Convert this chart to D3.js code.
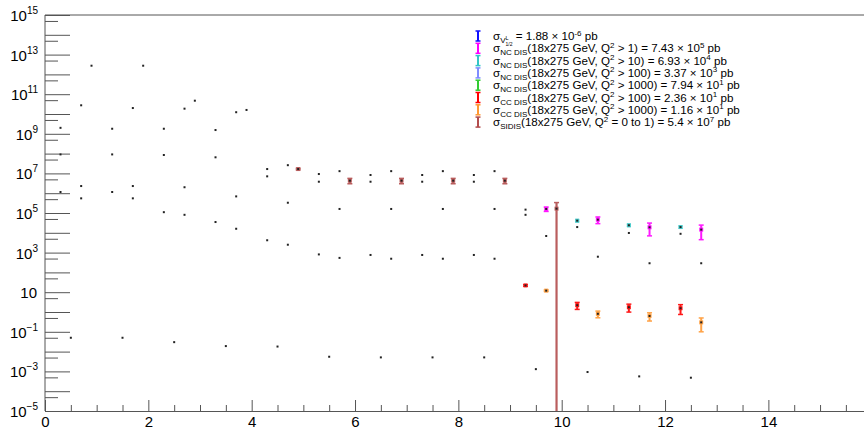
<!DOCTYPE html>
<html>
<head>
<meta charset="utf-8">
<script src="https://cdn.jsdelivr.net/npm/d3@7"></script>
<style>
  body { margin: 0; background: #fff; }
  text { font-family: "Liberation Sans", Arial, Helvetica, sans-serif; }
</style>
</head>
<body>
<div id="chart"></div>
<script>
// black markers (other processes)
var dotX = [0.3, 0.3, 0.3, 0.5, 0.7, 0.7, 0.7, 0.9,
            1.3, 1.3, 1.3, 1.5, 1.7, 1.7, 1.7, 1.9,
            2.3, 2.3, 2.3, 2.5, 2.7, 2.7, 2.7, 2.9,
            3.3, 3.3, 3.3, 3.5, 3.7, 3.7, 3.7, 3.9,
            4.3, 4.3, 4.3, 4.5, 4.7, 4.7, 4.7,
            5.3, 5.3, 5.3, 5.5, 5.7, 5.7, 5.7,
            6.3, 6.3, 6.3, 6.5, 6.7, 6.7, 6.7,
            7.3, 7.3, 7.3, 7.5, 7.7, 7.7, 7.7,
            8.3, 8.3, 8.3, 8.5, 8.7, 8.7, 8.7,
            9.3, 9.3, 9.5, 9.7,
            10.3, 10.5, 10.7, 11.3, 11.5, 11.7, 12.3, 12.5, 12.7]
var dotY = [2.0e9, 9.1e7, 1.15e6, 0.05, 2.75e10, 2.3e6, 5.5e5, 2.75e12,
            1.8e9, 9.1e7, 1.15e6, 0.05, 2.0e10, 2.3e6, 5.5e5, 2.75e12,
            1.8e9, 8.5e7, 1.1e5, 0.03, 1.86e10, 2.0e6, 8.1e4, 4.7e10,
            1.55e9, 6.5e7, 3.5e4, 0.019, 1.23e10, 6.9e5, 1.6e4, 1.6e10,
            1.66e7, 7.1e6, 4.2e3, 0.018, 2.6e7, 3.3e5, 2.5e3,
            9.3e6, 3.8e6, 810, 0.0055, 1.3e7, 1.6e5, 540,
            8.3e6, 3.8e6, 760, 0.0051, 1.3e7, 1.6e5, 490,
            8.3e6, 3.8e6, 760, 0.0051, 1.3e7, 1.6e5, 490,
            8.3e6, 3.8e6, 760, 0.0051, 1.3e7, 1.6e5, 490,
            1.48e5, 8.1e4, 0.0013, 6.9e3,
            1.95e4, 9.3e-4, 620, 9.8e3, 5.6e-4, 290, 8.9e3, 4.8e-4, 290]

// series with error bars
var ncX = [9.7, 10.7, 11.7, 12.7]
var ncY = [1.6e5, 4.6e4, 1.9e4, 1.45e4]
var ncErr = [4e4, 1.7e4, 1.2e4, 1.0e4]

var nc10X = [10.3, 11.3, 12.3]
var nc10Y = [4.1e4, 2.4e4, 1.95e4]
var nc10Err = [5e3, 3e3, 2.5e3]

var cc100X = [9.3, 10.3, 11.3, 12.3]
var cc100Y = [22, 2.2, 1.74, 1.55]
var cc100Err = [2, 0.85, 0.75, 0.8]

var cc1000X = [9.7, 10.7, 11.7, 12.7]
var cc1000Y = [12, 0.81, 0.63, 0.30]
var cc1000Err = [1, 0.3, 0.28, 0.2]

var sidisX = [4.9, 5.9, 6.9, 7.9, 8.9, 9.9]
var sidisY = [1.66e7, 4.3e6, 4.3e6, 4.3e6, 4.3e6, 1.66e5]
var sidisErr = [1.5e6, 1.3e6, 1.3e6, 1.3e6, 1.3e6, 1.7e5]

var xMajor = [0, 2, 4, 6, 8, 10, 12, 14]
var yLabelExp = [15, 13, 11, 9, 7, 5, 3, 1, -1, -3, -5]

var legendColors = ['#1010ff', '#ff00ff', '#33c6c6', '#7f8cff', '#33cc33', '#ff0000', '#ff9933', '#b34d4d']
// parts: [text, level]  0 normal, 1 sup, -1 sub
var legendRows = [
  [['σ', 0], ['V', -1], ['L', 2], ['1/2', -2], [' = 1.88 × 10', 0], ['-6', 1], [' pb', 0]],
  [['σ', 0], ['NC DIS', -1], ['(18x275 GeV, Q', 0], ['2', 1], [' > 1) = 7.43 × 10', 0], ['5', 1], [' pb', 0]],
  [['σ', 0], ['NC DIS', -1], ['(18x275 GeV, Q', 0], ['2', 1], [' > 10) = 6.93 × 10', 0], ['4', 1], [' pb', 0]],
  [['σ', 0], ['NC DIS', -1], ['(18x275 GeV, Q', 0], ['2', 1], [' > 100) = 3.37 × 10', 0], ['3', 1], [' pb', 0]],
  [['σ', 0], ['NC DIS', -1], ['(18x275 GeV, Q', 0], ['2', 1], [' > 1000) = 7.94 × 10', 0], ['1', 1], [' pb', 0]],
  [['σ', 0], ['CC DIS', -1], ['(18x275 GeV, Q', 0], ['2', 1], [' > 100) = 2.36 × 10', 0], ['1', 1], [' pb', 0]],
  [['σ', 0], ['CC DIS', -1], ['(18x275 GeV, Q', 0], ['2', 1], [' > 1000) = 1.16 × 10', 0], ['1', 1], [' pb', 0]],
  [['σ', 0], ['SIDIS', -1], ['(18x275 GeV, Q', 0], ['2', 1], [' = 0 to 1) = 5.4 × 10', 0], ['7', 1], [' pb', 0]]
]

var width = 864, height = 429
var padLeft = 45, padTop = 15, padBottom = 411

var svg = d3.select('#chart').append('svg')
  .attr('width', width)
  .attr('height', height)
  .style('display', 'block')

var x = d3.scaleLinear().domain([0, 16]).range([padLeft, padLeft + 16 * 51.67])
var y = d3.scaleLog().domain([1e-5, 1e15]).range([padBottom, padTop])

var axisColor = '#555'

// frame (top + left); right side is off the canvas
svg.append('line').attr('x1', padLeft).attr('x2', width).attr('y1', padTop).attr('y2', padTop)
  .attr('stroke', axisColor)
svg.append('line').attr('x1', padLeft).attr('x2', padLeft).attr('y1', padTop).attr('y2', padBottom)
  .attr('stroke', axisColor)

// y ticks
var decades = d3.range(-5, 16).map(function (e) { return Math.pow(10, e) })
var fives = d3.range(-5, 15).map(function (e) { return 5 * Math.pow(10, e) })

svg.append('g').attr('class', 'y-major')
  .attr('transform', 'translate(' + padLeft + ',0)')
  .call(d3.axisRight(y).tickValues(decades).tickSize(25).tickSizeOuter(0).tickFormat(''))
svg.append('g').attr('class', 'y-minor')
  .attr('transform', 'translate(' + padLeft + ',0)')
  .call(d3.axisRight(y).tickValues(fives).tickSize(13).tickSizeOuter(0).tickFormat(''))
svg.selectAll('.y-major path, .y-minor path').remove()
svg.selectAll('.y-major line, .y-minor line').attr('stroke', axisColor)

// y labels
var ylab = svg.append('g').selectAll('text')
  .data(yLabelExp)
  .enter().append('text')
  .attr('text-anchor', 'end')
  .attr('x', 38)
  .attr('y', function (d) { return y(Math.pow(10, d)) + 6 })
  .style('font-size', '15px')
  .attr('fill', '#000')
ylab.append('tspan').text('10')
ylab.filter(function (d) { return d !== 1 })
  .append('tspan')
  .attr('dy', -7)
  .style('font-size', '10px')
  .text(function (d) { return d < 0 ? '\u2212' + (-d) : d })
ylab.filter(function (d) { return d === 1 }).attr('x', 37)

// x axis
var minors = d3.range(0, 16.01, 0.5).filter(function (d) { return d % 2 !== 0 })
svg.append('g').attr('class', 'x-minor')
  .attr('transform', 'translate(0,' + padBottom + ')')
  .call(d3.axisBottom(x).tickValues(minors).tickSize(-6).tickSizeOuter(0).tickFormat(''))
svg.append('g').attr('class', 'x-axis')
  .attr('transform', 'translate(0,' + padBottom + ')')
  .call(d3.axisBottom(x).tickValues(xMajor).tickSize(-11).tickSizeOuter(0).tickPadding(5).tickFormat(d3.format('d')))
svg.selectAll('.x-axis path, .x-minor path').attr('stroke', axisColor)
svg.selectAll('.x-axis line, .x-minor line').attr('stroke', axisColor)
svg.selectAll('.x-axis text')
  .style('font-size', '15px')
  .style('font-family', '"Liberation Sans", Arial, sans-serif')
  .attr('fill', '#000')

// plot area clip
svg.append('clipPath').attr('id', 'plotclip')
  .append('rect').attr('x', padLeft).attr('y', padTop).attr('width', width - padLeft).attr('height', padBottom - padTop)

var plot = svg.append('g').attr('clip-path', 'url(#plotclip)')

function errorSeries(xs, ys, errs, color, lineW, capW, opacity) {
  var rows = xs.map(function (d, i) { return { x: d, y: ys[i], e: errs[i] } })
  var g = plot.append('g').attr('opacity', opacity)
  g.selectAll('.bar')
    .data(rows)
    .enter().append('line')
    .attr('x1', function (d) { return x(d.x) })
    .attr('x2', function (d) { return x(d.x) })
    .attr('y1', function (d) { return y(d.y + d.e) })
    .attr('y2', function (d) { return d.y - d.e > 1e-6 ? y(d.y - d.e) : padBottom + 5 })
    .attr('stroke', color)
    .attr('stroke-width', lineW)
  g.selectAll('.capt')
    .data(rows)
    .enter().append('line')
    .attr('x1', function (d) { return x(d.x) - capW / 2 })
    .attr('x2', function (d) { return x(d.x) + capW / 2 })
    .attr('y1', function (d) { return y(d.y + d.e) })
    .attr('y2', function (d) { return y(d.y + d.e) })
    .attr('stroke', color)
    .attr('stroke-width', 1.5)
  g.selectAll('.capb')
    .data(rows.filter(function (d) { return d.y - d.e > 1e-6 }))
    .enter().append('line')
    .attr('x1', function (d) { return x(d.x) - capW / 2 })
    .attr('x2', function (d) { return x(d.x) + capW / 2 })
    .attr('y1', function (d) { return y(d.y - d.e) })
    .attr('y2', function (d) { return y(d.y - d.e) })
    .attr('stroke', color)
    .attr('stroke-width', 1.5)
  g.selectAll('.mk')
    .data(rows)
    .enter().append('rect')
    .attr('x', function (d) { return x(d.x) - 2 })
    .attr('y', function (d) { return y(d.y) - 2 })
    .attr('width', 4)
    .attr('height', 4)
    .attr('fill', color)
  plot.append('g').selectAll('rect')
    .data(rows)
    .enter().append('rect')
    .attr('x', function (d) { return x(d.x) - 1 })
    .attr('y', function (d) { return y(d.y) - 1 })
    .attr('width', 2)
    .attr('height', 2)
    .attr('fill', '#222')
}

errorSeries(sidisX, sidisY, sidisErr, legendColors[7], 2.2, 5, 0.9)
errorSeries(ncX, ncY, ncErr, legendColors[1], 2, 5, 0.9)
errorSeries(nc10X, nc10Y, nc10Err, legendColors[2], 2, 4, 0.9)
errorSeries(cc100X, cc100Y, cc100Err, legendColors[5], 2, 5, 0.9)
errorSeries(cc1000X, cc1000Y, cc1000Err, legendColors[6], 2, 5, 0.9)

// black dots
plot.append('g').selectAll('rect')
  .data(dotX)
  .enter().append('rect')
  .attr('x', function (d) { return x(d) - 1 })
  .attr('y', function (d, i) { return y(dotY[i]) - 1 })
  .attr('width', 2)
  .attr('height', 2)
  .attr('fill', '#222')

// legend
var legendTop = 36, legendStep = 12.3
var lg = svg.append('g').attr('class', 'legend')

lg.selectAll('.lmark')
  .data(legendColors)
  .enter().append('g')
  .attr('transform', function (d, i) { return 'translate(478,' + (legendTop + i * legendStep) + ')' })
  .each(function (c) {
    var g = d3.select(this)
    g.append('line').attr('x1', 0).attr('x2', 0).attr('y1', -5).attr('y2', 5)
      .attr('stroke', c).attr('stroke-width', 2)
    g.append('line').attr('x1', -2.5).attr('x2', 2.5).attr('y1', -5).attr('y2', -5)
      .attr('stroke', c).attr('stroke-width', 1.5)
    g.append('line').attr('x1', -2.5).attr('x2', 2.5).attr('y1', 5).attr('y2', 5)
      .attr('stroke', c).attr('stroke-width', 1.5)
  })

var shifts = { '0': 0, '1': -4.5, '-1': 3, '2': -0.5, '-2': 5.5 }
var sizes = { '0': 11.6, '1': 8, '-1': 8, '2': 5.5, '-2': 5 }

legendRows.forEach(function (parts, i) {
  var t = lg.append('text')
    .attr('x', 493)
    .attr('y', legendTop + i * legendStep + 4)
    .attr('fill', '#000')
  var cur = 0
  parts.forEach(function (p) {
    var lvl = String(p[1])
    var ts = t.append('tspan')
      .attr('dy', shifts[lvl] - cur)
      .style('font-size', sizes[lvl] + 'px')
      .text(p[0])
    if (lvl === '-2') ts.attr('dx', -3)
    cur = shifts[lvl]
  })
})
</script>
</body>
</html>
